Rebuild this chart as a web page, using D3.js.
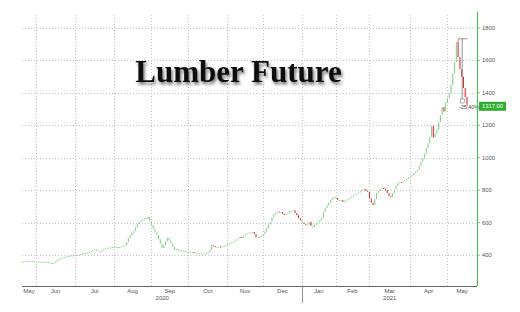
<!DOCTYPE html>
<html><head><meta charset="utf-8">
<script src="https://cdn.jsdelivr.net/npm/d3@7/dist/d3.min.js"></script>
<style>html,body{margin:0;padding:0;background:#fff;}svg{display:block;}</style>
</head><body>
<svg id="c" width="520" height="312"></svg>
<script>
const title = "Lumber Future";
const monthLabels = ["May","Jun","Jul","Aug","Sep","Oct","Nov","Dec","Jan","Feb","Mar","Apr","May"];
const monthDays = [8,22,22,21,21,22,20,22,19,19,23,21,12];
const yearLabels = ["2020","2021"];
const yTicks = [400,600,800,1000,1200,1400,1600,1800];
const closes = [
 359,356,361,364,360,363,358,361,
 357,359,355,358,360,356,357,354,351,348,352,361,369,374,380,385,388,392,390,395,398,396,
 400,403,401,406,410,412,409,415,419,425,431,437,430,424,420,428,435,440,443,446,445,449,
 448,450,447,449,452,458,462,480,505,520,536,548,570,590,604,612,620,628,622,636,610,
 585,562,540,523,498,470,443,460,484,505,490,470,452,431,438,430,422,425,428,418,412,
 415,421,419,413,409,406,410,404,406,408,412,419,432,460,455,450,446,452,449,455,458,462,
 466,470,476,480,488,497,505,511,506,520,528,533,538,536,542,530,510,505,512,517,
 528,545,566,588,604,632,652,659,668,662,665,655,647,652,660,672,668,675,659,645,628,616,
 600,592,588,585,604,580,572,585,596,604,615,628,665,690,705,722,740,752,758,
 751,740,733,738,727,735,741,745,752,760,768,775,780,786,795,801,808,796,790,
 748,722,708,745,782,795,806,813,808,801,782,765,758,782,805,828,844,850,846,855,862,870,880,
 885,893,905,915,924,952,975,998,1025,1060,1090,1128,1195,1125,1150,1171,1218,1263,1313,1285,1340,
 1368,1395,1450,1522,1590,1714,1621,1545,1500,1430,1374,1317
];
const redDays = [97,108,109,112,124,131,132,145,147,148,154,155,156,157,159,160,163,178,181,194,195,196,197,198,204,205,206,207,208,214,232,238,246,247,248,249,250,251];
const peakHigh = 1733.5;
const lastLow = 1293;
const bracketLow = 1350;
const changeLabel = "-25.40%";
const lastLabel = "1317.00";

const svg = d3.select("#c");
const pL = 22, pR = 477, pT = 15, pB = 286;
const x = d3.scaleLinear().domain([0, closes.length - 1]).range([pL, 467]);
const y = d3.scaleLinear().domain([209, 1880]).range([pB, pT]);

const starts = [];
let acc = 0;
monthDays.forEach(d => { starts.push(acc); acc += d; });

const defs = svg.append("defs");
const f = defs.append("filter").attr("id","sh").attr("x","-10%").attr("y","-30%").attr("width","130%").attr("height","170%");
f.append("feDropShadow").attr("dx",1.5).attr("dy",2.5).attr("stdDeviation",1.6).attr("flood-color","#000").attr("flood-opacity",0.55);

const g = svg.append("g");
g.selectAll(".hg").data(yTicks).join("line")
  .attr("x1", pL).attr("x2", pR)
  .attr("y1", d => Math.round(y(d)) + 0.5).attr("y2", d => Math.round(y(d)) + 0.5)
  .attr("stroke", "#b5b5b5").attr("stroke-width", 0.8).attr("stroke-dasharray", "1,2");
g.selectAll(".vg").data(starts.slice(1)).join("line")
  .attr("x1", d => Math.round(x(d - 0.1)) + 0.5).attr("x2", d => Math.round(x(d - 0.1)) + 0.5)
  .attr("y1", pT).attr("y2", pB)
  .attr("stroke", "#b5b5b5").attr("stroke-width", 0.8).attr("stroke-dasharray", "1,2");

svg.append("text").attr("x", 238.5).attr("y", 82).attr("text-anchor","middle")
  .attr("font-family","'Liberation Serif','DejaVu Serif',serif").attr("font-weight","bold")
  .attr("font-size", 31).attr("fill","#111").attr("filter","url(#sh)").text(title);

const redSet = new Set(redDays);
const cg = svg.append("g");
closes.forEach((c, i) => {
  const o = i === 0 ? c : closes[i - 1];
  const y1 = y(Math.max(o, c)), y2 = y(Math.min(o, c));
  const red = redSet.has(i);
  cg.append("rect")
    .attr("x", x(i) - 0.55).attr("width", 1.1)
    .attr("y", y1).attr("height", Math.max(y2 - y1, 1))
    .attr("fill", red ? "#d93030" : "#86d086");
});
const last = closes.length - 1;
const peakIdx = closes.indexOf(d3.max(closes)) + 1;
cg.append("line").attr("x1", x(peakIdx)).attr("x2", x(peakIdx))
  .attr("y1", y(peakHigh)).attr("y2", y(closes[peakIdx - 1])).attr("stroke","#d93030").attr("stroke-width",0.6);
cg.append("line").attr("x1", x(last)).attr("x2", x(last))
  .attr("y1", y(closes[last])).attr("y2", y(lastLow)).attr("stroke","#d93030").attr("stroke-width",0.6);

const bx = x(peakIdx + 2.3);
svg.append("line").attr("x1", x(peakIdx)).attr("x2", x(last) + 0.5)
  .attr("y1", y(peakHigh)).attr("y2", y(peakHigh)).attr("stroke","#777").attr("stroke-width",0.8);
svg.append("line").attr("x1", bx).attr("x2", bx)
  .attr("y1", y(peakHigh)).attr("y2", y(bracketLow)).attr("stroke","#777").attr("stroke-width",0.8);
svg.append("rect").attr("x", bx - 2).attr("y", y(bracketLow) - 2).attr("width", 4).attr("height", 4)
  .attr("fill","#fff").attr("stroke","#777").attr("stroke-width",0.6);
svg.append("text").attr("x", bx - 3).attr("y", y(bracketLow) + 8)
  .attr("font-family","'Liberation Sans',Arial,sans-serif").attr("font-size", 5.3).attr("fill","#444")
  .attr("stroke","#fff").attr("stroke-width",1.2).attr("paint-order","stroke").text(changeLabel);

svg.append("line").attr("x1", pL).attr("x2", pR).attr("y1", pB + 0.5).attr("y2", pB + 0.5)
  .attr("stroke","#666").attr("stroke-width",1);
svg.append("line").attr("x1", pR + 0.5).attr("x2", pR + 0.5).attr("y1", pT - 3).attr("y2", pB)
  .attr("stroke","#4cb84c").attr("stroke-width",1);

const ya = svg.append("g");
ya.selectAll("line").data(yTicks).join("line")
  .attr("x1", pR).attr("x2", pR + 3)
  .attr("y1", d => y(d)).attr("y2", d => y(d)).attr("stroke","#4cb84c").attr("stroke-width",0.8);
ya.selectAll("text").data(yTicks).join("text")
  .attr("x", pR + 5).attr("y", d => y(d) + 2)
  .attr("font-family","'Liberation Sans',Arial,sans-serif").attr("font-size", 5.8).attr("fill","#555")
  .text(d => d);

const ly = y(closes[last]);
svg.append("rect").attr("x", pR + 2).attr("y", ly - 4.5).attr("width", 27).attr("height", 9).attr("fill","#2fae2f");
svg.append("text").attr("x", pR + 15.5).attr("y", ly + 2).attr("text-anchor","middle")
  .attr("font-family","'Liberation Sans',Arial,sans-serif").attr("font-size", 5.8).attr("fill","#fff").text(lastLabel);

const xa = svg.append("g").attr("font-family","'Liberation Sans',Arial,sans-serif").attr("font-size", 6).attr("fill","#555");
monthLabels.forEach((m, k) => {
  const a = k === 0 ? pL : x(starts[k] - 0.1);
  const b = k === monthLabels.length - 1 ? pR : x(starts[k + 1] - 0.1);
  xa.append("text").attr("x", (a + b) / 2).attr("y", 293).attr("text-anchor","middle").text(m);
});
const janIdx = starts[8];
const jx = Math.round(x(janIdx - 0.1)) + 0.5;
xa.append("text").attr("x", (pL + jx) / 2).attr("y", 300).attr("text-anchor","middle").text(yearLabels[0]);
xa.append("text").attr("x", (jx + pR) / 2).attr("y", 300).attr("text-anchor","middle").text(yearLabels[1]);
svg.append("line").attr("x1", jx).attr("x2", jx).attr("y1", pB).attr("y2", 303).attr("stroke","#777").attr("stroke-width",0.8);
</script>
</body></html>
